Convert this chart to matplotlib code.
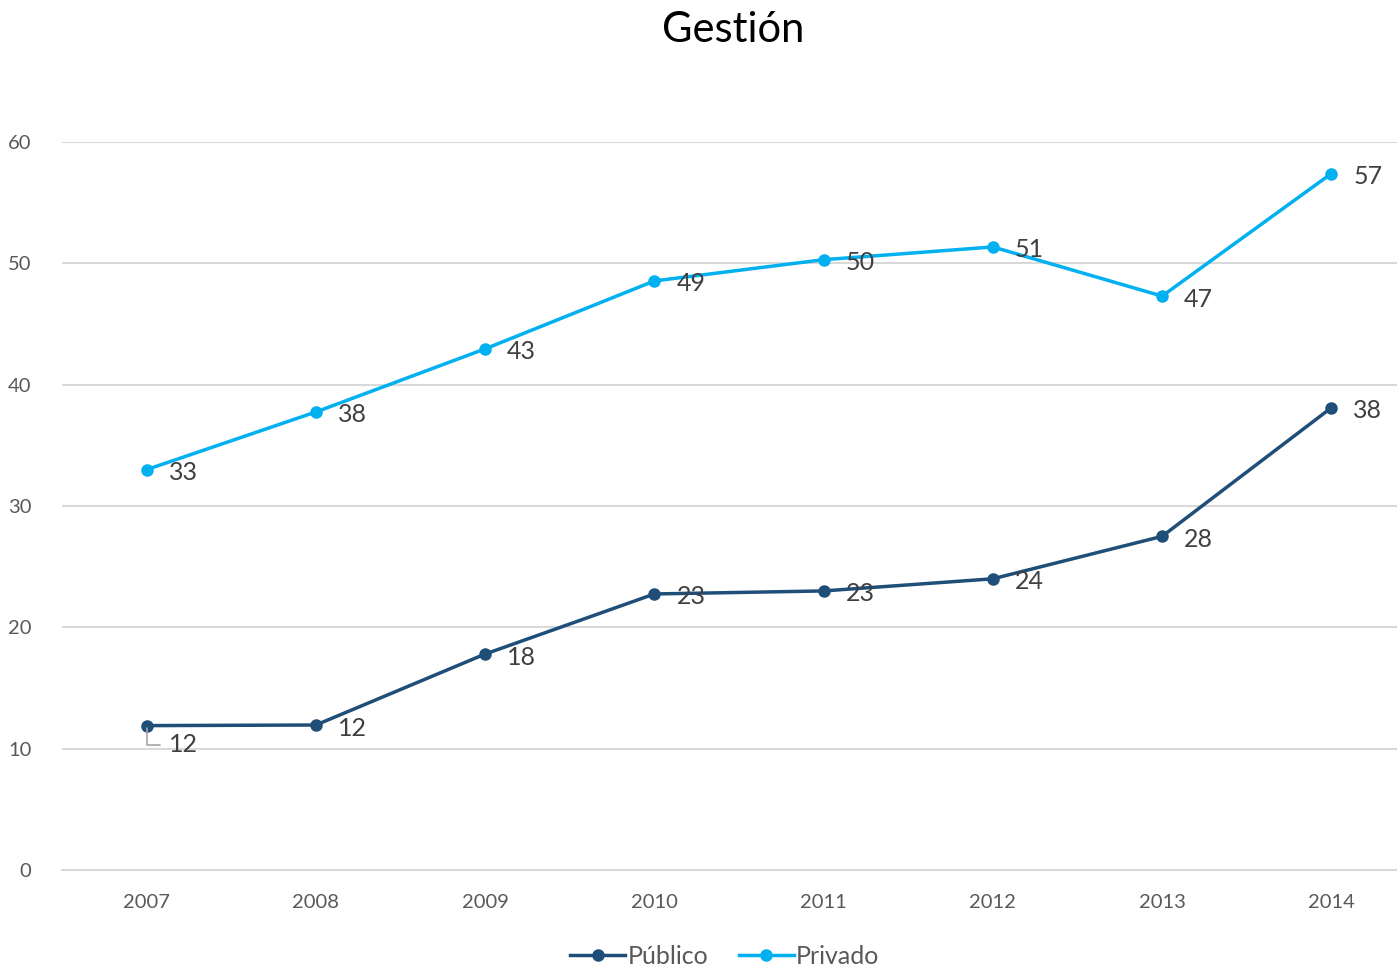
import matplotlib.pyplot as plt

# data
years = ['2007', '2008', '2009', '2010', '2011', '2012', '2013', '2014']
publico = [11.9, 11.95, 17.8, 22.75, 23.0, 24.0, 27.5, 38.1]
privado = [33.0, 37.75, 42.95, 48.55, 50.3, 51.35, 47.3, 57.4]
publico_labels = ['12', '12', '18', '23', '23', '24', '28', '38']
privado_labels = ['33', '38', '43', '49', '50', '51', '47', '57']

plt.rcParams['font.family'] = ['Lato', 'DejaVu Sans']

fig = plt.figure(figsize=(13.97, 9.69), dpi=100)
ax = fig.add_axes([62 / 1397, 1 - 870 / 969, 1354 / 1397, (870 - 142) / 969])

x = list(range(len(years)))
c_pub = '#1F4E79'
c_pri = '#00B0F0'

ax.plot(x, publico, color=c_pub, lw=2.5, marker='o', ms=8, label='Público', zorder=3)
ax.plot(x, privado, color=c_pri, lw=2.5, marker='o', ms=8, label='Privado', zorder=3)

# data labels
for i, (v, lab) in enumerate(zip(privado, privado_labels)):
    ax.annotate(lab, (i, v), xytext=(22, -3), textcoords='offset pixels',
                ha='left', va='center', fontsize=18, color='#404040')
for i, (v, lab) in enumerate(zip(publico, publico_labels)):
    if i == 0:
        ax.annotate(lab, (i, v), xytext=(22, -19), textcoords='offset pixels',
                    ha='left', va='center', fontsize=18, color='#404040',
                    arrowprops=dict(arrowstyle='-', color='#A6A6A6', lw=1.2,
                                    connectionstyle='angle,angleA=0,angleB=90',
                                    shrinkA=4, shrinkB=2))
    else:
        ax.annotate(lab, (i, v), xytext=(22, -3), textcoords='offset pixels',
                    ha='left', va='center', fontsize=18, color='#404040')

ax.set_xlim(-0.5, 7.5)
ax.set_ylim(0, 60)
ax.set_yticks(range(0, 61, 10))
ax.set_xticks(x)
ax.set_xticklabels(years)
ax.grid(axis='y', color='#D9D9D9', lw=1.5)
ax.set_axisbelow(True)
for s in ['top', 'right', 'left']:
    ax.spines[s].set_visible(False)
ax.spines['bottom'].set_color('#D9D9D9')
ax.spines['bottom'].set_linewidth(1.5)
ax.tick_params(length=0, labelsize=14.5, labelcolor='#595959')
ax.tick_params(axis='x', pad=17)
ax.tick_params(axis='y', pad=22)

fig.text(733 / 1397, 1 - 30 / 969, 'Gestión', ha='center', va='center', fontsize=30)

fig.legend(loc='center', bbox_to_anchor=(725 / 1397, 1 - 956 / 969), ncol=2, frameon=False,
           fontsize=18, handlelength=2.2, columnspacing=1.2, handletextpad=0.1,
           labelcolor='#595959')

fig.savefig('out.png', dpi=100)
